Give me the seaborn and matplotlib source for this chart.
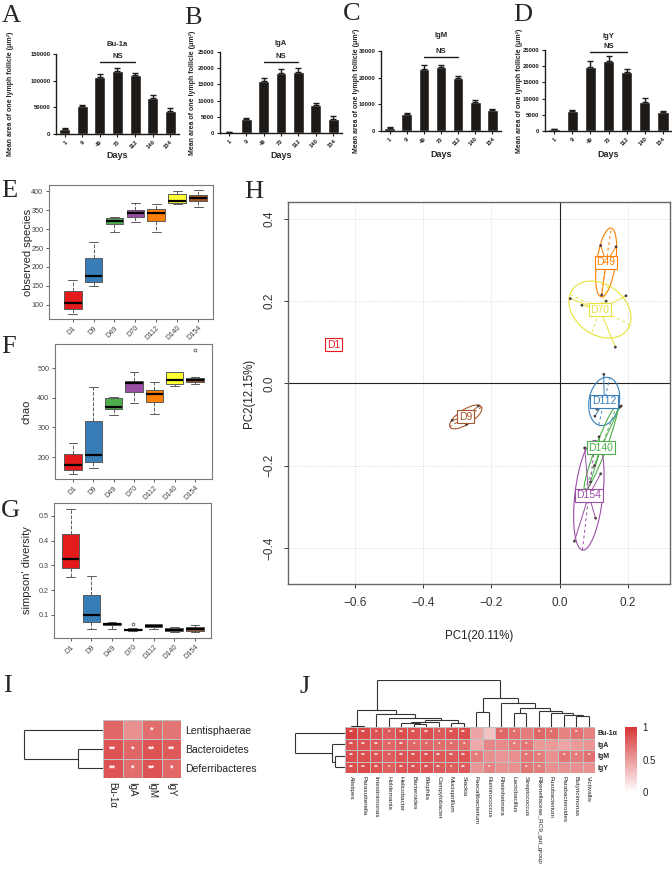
import numpy as np
import pandas as pd
import seaborn as sns
import matplotlib
matplotlib.use('Agg')
import matplotlib.pyplot as plt
from matplotlib.patches import Ellipse
from matplotlib.colors import LinearSegmentedColormap

W, H = 672, 875
sns.set_theme(style='white')
plt.rcParams['font.family'] = ['Liberation Sans', 'DejaVu Sans']

# ---------------- data ----------------
days = ['1', '9', '49', '70', '112', '140', '154']
bu1a_mean = [9000, 52000, 106000, 118000, 111000, 67000, 44000]
bu1a_err = [1500, 3000, 7000, 6000, 4000, 6000, 4000]
iga_mean = [300, 4200, 16200, 18500, 18900, 8600, 4200]
iga_err = [100, 400, 900, 1100, 1200, 700, 1100]
igm_mean = [1200, 6500, 23300, 23900, 19800, 10800, 7800]
igm_err = [150, 300, 1400, 1000, 800, 900, 600]
igy_mean = [500, 6100, 19700, 21600, 18300, 9100, 5900]
igy_err = [100, 400, 1800, 1600, 700, 1100, 400]
ns_levels = [135000, 21900, 27750, 24400]

groups = ['D1', 'D9', 'D49', 'D70', 'D112', 'D140', 'D154']
observed = [[75, 90, 106, 137, 167], [150, 160, 176, 225, 267], [292, 313, 322, 329, 333],
            [318, 333, 342, 350, 368], [291, 320, 343, 352, 365], [365, 368, 374, 392, 400],
            [357, 373, 383, 390, 402]]
chao = [[143, 158, 173, 210, 248], [162, 183, 208, 322, 437], [343, 363, 369, 398, 401],
        [383, 418, 448, 456, 486], [344, 385, 414, 425, 452], [440, 445, 460, 486, 486],
        [445, 451, 455, 465, 469, 562]]
simpson = [[0.253, 0.29, 0.328, 0.428, 0.53], [0.045, 0.072, 0.10, 0.18, 0.257],
           [0.045, 0.058, 0.062, 0.068, 0.07], [0.036, 0.0368, 0.039, 0.041, 0.0455, 0.065],
           [0.045, 0.05, 0.055, 0.063, 0.065], [0.03, 0.037, 0.04, 0.047, 0.05],
           [0.033, 0.036, 0.043, 0.05, 0.058]]
box_colors = ['#E41A1C', '#377EB8', '#4DAF4A', '#984EA3', '#FF7F00', '#FFFF33', '#A65628']

pc1 = {'D1': [-0.663, -0.663, -0.663], 'D9': [-0.315, -0.273, -0.238],
       'D49': [0.120, 0.165, 0.123], 'D70': [0.031, 0.065, 0.194, 0.163, 0.136],
       'D112': [0.129, 0.109, 0.103, 0.180], 'D140': [0.176, 0.115, 0.102, 0.090],
       'D154': [0.073, 0.043, 0.105, 0.120]}
pc2 = {'D1': [0.094, 0.094, 0.094], 'D9': [-0.090, -0.100, -0.055],
       'D49': [0.335, 0.332, 0.215], 'D70': [0.206, 0.190, 0.213, 0.088, 0.200],
       'D112': [0.022, -0.063, -0.080, -0.055], 'D140': [-0.058, -0.130, -0.200, -0.240],
       'D154': [-0.157, -0.384, -0.328, -0.220]}
pcoa_colors = {'D1': '#E41A1C', 'D9': '#A65628', 'D49': '#FF7F00', 'D70': '#E6E23A',
               'D112': '#377EB8', 'D140': '#4DAF4A', 'D154': '#984EA3'}

i_rows = ['Lentisphaerae', 'Bacteroidetes', 'Deferribacteres']
i_cols = ['Bu-1α', 'IgA', 'IgM', 'IgY']
i_vals = [[0.75, 0.55, 0.72, 0.68], [0.85, 0.75, 0.85, 0.82], [0.85, 0.72, 0.85, 0.75]]
i_stars = [['', '', '*', ''], ['**', '*', '**', '**'], ['**', '*', '**', '*']]
i_tree = [('bd', 1, 2, 25), ('root', 0, 'bd', 79)]

j_rows = ['Bu-1α', 'IgA', 'IgM', 'IgY']
j_cols = ['Alistipes', 'Parasutterella', 'Intestinimonas', 'Holdemania', 'Helicobacter',
          'Bacteroides', 'Bilophila', 'Campylobacter', 'Mucispirillum', 'Slackia',
          'Faecalibacterium', 'Ruminococcus', 'Rheinheimera', 'Lactobacillus', 'Streptococcus',
          'Rikenellaceae_RC9_gut_group', 'Fusobacterium', 'Parabacteroides', 'Butyricimonas',
          'Victivallis']
j_vals = [[0.95, 0.9, 0.85, 0.82, 0.88, 0.85, 0.87, 0.82, 0.86, 0.88, 0.45, 0.3, 0.75, 0.72, 0.65, 0.75, 0.72, 0.62, 0.7, 0.62],
          [0.85, 0.85, 0.82, 0.75, 0.8, 0.75, 0.75, 0.72, 0.72, 0.72, 0.42, 0.6, 0.58, 0.65, 0.68, 0.5, 0.5, 0.45, 0.5, 0.52],
          [0.88, 0.88, 0.85, 0.8, 0.85, 0.85, 0.85, 0.82, 0.82, 0.85, 0.65, 0.55, 0.52, 0.55, 0.68, 0.65, 0.55, 0.68, 0.65, 0.7],
          [0.88, 0.9, 0.85, 0.8, 0.85, 0.85, 0.85, 0.82, 0.8, 0.82, 0.52, 0.62, 0.55, 0.55, 0.68, 0.65, 0.55, 0.55, 0.55, 0.55]]
j_stars = [['**', '**', '*', '*', '**', '**', '**', '*', '**', '**', '', '', '*', '*', '', '*', '*', '', '*', ''],
           ['**', '**', '**', '*', '**', '*', '*', '*', '*', '*', '', '', '', '*', '*', '', '', '', '', ''],
           ['**', '**', '**', '*', '**', '**', '**', '**', '**', '**', '*', '', '', '', '*', '*', '', '*', '*', '*'],
           ['**', '**', '**', '*', '**', '**', '**', '**', '*', '**', '', '*', '', '', '*', '*', '', '', '', '']]
j_row_tree = [('my', 2, 3, 10), ('amy', 1, 'my', 13.3), ('root', 0, 'amy', 50)]
j_col_tree = [('A', 0, 1, 1), ('c', 5, 6, 3), ('d', 4, 'c', 4.5), ('d2', 'd', 7, 5.5),
              ('a', 8, 9, 4), ('e', 'd2', 'a', 7), ('f', 3, 'e', 9), ('g', 2, 'f', 13),
              ('L', 'A', 'g', 17), ('p', 10, 11, 15), ('q', 13, 14, 14), ('r', 18, 19, 11),
              ('s', 17, 'r', 12.5), ('t', 16, 's', 14), ('u', 15, 't', 16), ('v', 'q', 'u', 18.7),
              ('w', 12, 'v', 23.7), ('R', 'p', 'w', 29), ('root', 'L', 'R', 47)]

# ---------------- helpers ----------------
fig = plt.figure(figsize=(W / 100, H / 100), dpi=100)


def rect(x0, y0, x1, y1):
    return [x0 / W, 1 - y1 / H, (x1 - x0) / W, (y1 - y0) / H]


def letter(s, x, y):
    fig.text(x / W, 1 - y / H, s, fontsize=19, family='Liberation Serif', va='baseline', ha='left')


def draw_tree(ax, merges, n, orient, color='#333333'):
    pos = {i: i + 0.5 for i in range(n)}
    hgt = {i: 0.0 for i in range(n)}
    for name, a, b, h in merges:
        segs = [([pos[a], pos[a]], [hgt[a], h]), ([pos[b], pos[b]], [hgt[b], h]),
                ([pos[a], pos[b]], [h, h])]
        for p, q in segs:
            if orient == 'top':
                ax.plot(p, q, color=color, lw=0.8, solid_capstyle='butt')
            else:
                ax.plot(q, p, color=color, lw=0.8, solid_capstyle='butt')
        pos[name] = (pos[a] + pos[b]) / 2
        hgt[name] = h
    ax.axis('off')


# ---------------- A-D bar charts ----------------
bar_specs = [
    ('Bu-1a', bu1a_mean, bu1a_err, 150000, 50000, (56, 54, 179, 134), 6, 14, 151),
    ('IgA', iga_mean, iga_err, 25000, 5000, (220, 52, 342, 133), 5, 196, 151),
    ('IgM', igm_mean, igm_err, 30000, 10000, (381, 51, 501, 131), 10, 360, 150),
    ('IgY', igy_mean, igy_err, 25000, 5000, (545, 50, 672, 131), 8.5, 523, 150),
]
for k, (title, mean, err, ymax, step, r, tpad, ylx, xly) in enumerate(bar_specs):
    ax = fig.add_axes(rect(*r))
    sns.barplot(x=days, y=mean, color='#1e1a18', saturation=1, width=0.62, ax=ax)
    ax.errorbar(np.arange(7), mean, yerr=[np.zeros(7), err], fmt='none', ecolor='#1e1a18',
                elinewidth=1, capsize=2.2, capthick=1)
    ax.set_xlim(-0.5, 6.5)
    ax.set_ylim(0, ymax)
    ax.set_yticks(np.arange(0, ymax + 1, step))
    for s in ['top', 'right']:
        ax.spines[s].set_visible(False)
    for s in ['left', 'bottom']:
        ax.spines[s].set_color('#1e1a18')
        ax.spines[s].set_linewidth(1)
    ax.tick_params(axis='both', labelsize=4.2, length=2.5, width=0.8, pad=1.5, direction='out',
                   bottom=True, left=True, colors='#1e1a18')
    plt.setp(ax.get_xticklabels(), rotation=45, ha='right', rotation_mode='anchor', fontweight='bold')
    plt.setp(ax.get_yticklabels(), fontweight='bold')
    ax.set_title(title, fontsize=5.5, fontweight='bold', pad=tpad)
    ax.set_xlabel('Days', fontsize=6.5, fontweight='bold', va='top')
    ax.xaxis.set_label_coords(0.5, -(xly - r[3]) / (r[3] - r[1]))
    ax.set_ylabel('Mean area of one lymph follicle (μm²)', fontsize=5, fontweight='bold')
    ax.yaxis.set_label_coords((ylx - r[0]) / (r[2] - r[0]), 0.5)
    ns = ns_levels[k]
    ax.plot([2, 4], [ns, ns], color='#1e1a18', lw=1)
    ax.annotate('NS', xy=(3, ns), xytext=(0, 1.5), textcoords='offset points',
                ha='center', va='bottom', fontsize=5.5, fontweight='bold')

letter('A', 2, 22)
letter('B', 184, 24)
letter('C', 343, 20)
letter('D', 513, 21)

# ---------------- E-G boxplots ----------------
box_specs = [
    (observed, 'observed species', (49, 185, 213, 319), (63, 416), [100, 150, 200, 250, 300, 350, 400], (-1.13, 6.71), 33),
    (chao, 'chao', (55, 344, 212, 479), (126, 581), [200, 300, 400, 500], (-0.89, 6.84), 32),
    (simpson, "simpson' diversity", (54, 503, 211, 638), (0.007, 0.5525), [0.1, 0.2, 0.3, 0.4, 0.5], (-0.8, 6.77), 32),
]
for vals, ylab, r, ylim, yt, xlim, ylx in box_specs:
    ax = fig.add_axes(rect(*r))
    df = pd.DataFrame([(g, v) for g, vs in zip(groups, vals) for v in vs], columns=['group', 'value'])
    sns.boxplot(data=df, x='group', y='value', hue='group', palette=box_colors, legend=False,
                width=0.85, linecolor='#5a5a5a', linewidth=0.7, saturation=1,
                whiskerprops=dict(linestyle='--'), medianprops=dict(color='black', linewidth=1.6),
                flierprops=dict(marker='o', markersize=2, markerfacecolor='none',
                                markeredgecolor='#555555', markeredgewidth=0.6), ax=ax)
    ax.set_xlim(*xlim)
    ax.set_ylim(*ylim)
    ax.set_yticks(yt)
    ax.set_yticklabels([f'{v:g}' for v in yt])
    for s in ax.spines.values():
        s.set_color('#777777')
        s.set_linewidth(0.8)
    ax.tick_params(axis='both', labelsize=5.2, length=2.5, width=0.6, pad=1.5, direction='out',
                   bottom=True, left=True, colors='#444444')
    plt.setp(ax.get_xticklabels(), rotation=45, ha='right', rotation_mode='anchor')
    ax.set_xlabel('')
    ax.set_ylabel(ylab, fontsize=8)
    ax.yaxis.set_label_coords((ylx - r[0]) / (r[2] - r[0]), 0.5)

letter('E', 1, 197)
letter('F', 1, 353)
letter('G', 1, 517)

# ---------------- H PCoA ----------------
r = (288, 202, 670, 584)
ax = fig.add_axes(rect(*r))
pdf = pd.DataFrame([(g, x, y) for g in groups for x, y in zip(pc1[g], pc2[g])],
                   columns=['group', 'PC1', 'PC2'])
ax.set_xlim(-0.796, 0.323)
ax.set_ylim(-0.488, 0.441)
xt = [-0.6, -0.4, -0.2, 0.0, 0.2]
ytk = [-0.4, -0.2, 0.0, 0.2, 0.4]
for v in xt:
    ax.axvline(v, color='#d0d0d0', lw=0.6, ls=':', zorder=0)
for v in ytk:
    ax.axhline(v, color='#d0d0d0', lw=0.6, ls=':', zorder=0)
ax.axvline(0, color='#222222', lw=0.8, zorder=1)
ax.axhline(0, color='#222222', lw=0.8, zorder=1)
for g in groups:
    x = np.array(pc1[g]); y = np.array(pc2[g])
    col = pcoa_colors[g]
    cx, cy = x.mean(), y.mean()
    for xi, yi in zip(x, y):
        ax.plot([xi, cx], [yi, cy], color=col, lw=0.7, zorder=2)
    cov = np.cov(x, y, bias=True)
    ev, evec = np.linalg.eigh(cov)
    ev = np.clip(ev, 0, None)
    if ev.max() > 1e-9:
        semi = 1.5 * np.sqrt(ev)
        ang = np.degrees(np.arctan2(evec[1, 1], evec[0, 1]))
        ax.add_patch(Ellipse((cx, cy), 2 * semi[1], 2 * semi[0], angle=ang, fill=False,
                             edgecolor=col, lw=0.8, zorder=2))
        for j in range(2):
            dx, dy = evec[0, j] * semi[j], evec[1, j] * semi[j]
            ax.plot([cx - dx, cx + dx], [cy - dy, cy + dy], color=col, lw=0.7, ls=(0, (3, 3)), zorder=2)
    ax.text(cx, cy, g, ha='center', va='center', color=col, fontsize=7.5, zorder=4,
            bbox=dict(boxstyle='square,pad=0.15', fc='white', ec=col, lw=0.8))
sns.scatterplot(data=pdf, x='PC1', y='PC2', color='#4a3a3a', s=4, edgecolor='none',
                legend=False, ax=ax, zorder=3)
ax.set_xticks(xt)
ax.set_xticklabels(['−0.6', '−0.4', '−0.2', '0.0', '0.2'])
ax.set_yticks(ytk)
ax.set_yticklabels(['−0.4', '−0.2', '0.0', '0.2', '0.4'], rotation=90, va='center')
for s in ax.spines.values():
    s.set_color('#666666')
    s.set_linewidth(1)
ax.tick_params(axis='both', labelsize=8.5, length=3, width=0.7, pad=6, direction='out',
               bottom=True, left=True, colors='#333333')
ax.set_xlabel('PC1(20.11%)', fontsize=8.3, va='top', color='#222222')
ax.xaxis.set_label_coords(0.5, -(630 - r[3]) / (r[3] - r[1]))
ax.set_ylabel('PC2(12.15%)', fontsize=8.3, color='#222222')
ax.yaxis.set_label_coords((255 - r[0]) / (r[2] - r[0]), 0.5)
letter('H', 244, 198)

# ---------------- I heatmap ----------------
cmap = LinearSegmentedColormap.from_list('wr', ['#FFFFFF', '#D73535'])
ax = fig.add_axes(rect(103, 720, 181, 778))
sns.heatmap(np.array(i_vals), ax=ax, cmap=cmap, vmin=0, vmax=1, cbar=False,
            linewidths=0.6, linecolor='#C0C0C0', annot=np.array(i_stars), fmt='',
            annot_kws=dict(color='white', fontsize=6.5, fontweight='bold'),
            xticklabels=i_cols, yticklabels=i_rows)
ax.yaxis.tick_right()
ax.tick_params(length=0, pad=3)
plt.setp(ax.get_yticklabels(), rotation=0, fontsize=7.5, color='#222222')
plt.setp(ax.get_xticklabels(), rotation=270, fontsize=7, color='#222222', va='top', ha='center')
axd = fig.add_axes(rect(22, 720, 103, 778))
axd.set_xlim(81, 0)
axd.set_ylim(3, 0)
draw_tree(axd, i_tree, 3, 'left')
letter('I', 3, 692)

# ---------------- J heatmap ----------------
ax = fig.add_axes(rect(345, 727, 595, 773))
cax = fig.add_axes(rect(625, 727, 637, 792))
sns.heatmap(np.array(j_vals), ax=ax, cmap=cmap, vmin=0, vmax=1, cbar_ax=cax,
            linewidths=0.5, linecolor='#C0C0C0', annot=np.array(j_stars), fmt='',
            annot_kws=dict(color='white', fontsize=4.5, fontweight='bold'),
            xticklabels=j_cols, yticklabels=j_rows)
ax.yaxis.tick_right()
ax.tick_params(length=0, pad=2)
plt.setp(ax.get_yticklabels(), rotation=0, fontsize=5, fontweight='bold', color='#222222')
plt.setp(ax.get_xticklabels(), rotation=270, fontsize=4.6, color='#222222', va='top', ha='center')
cax.set_yticks([0, 0.5, 1])
cax.set_yticklabels(['0', '0.5', '1'])
cax.tick_params(length=0, labelsize=7, pad=4, colors='#222222')
for s in cax.spines.values():
    s.set_visible(False)
axd = fig.add_axes(rect(345, 680, 595, 727))
axd.set_xlim(0, 20)
axd.set_ylim(0, 47)
draw_tree(axd, j_col_tree, 20, 'top')
axd = fig.add_axes(rect(293, 727, 345, 773))
axd.set_xlim(52, 0)
axd.set_ylim(4, 0)
draw_tree(axd, j_row_tree, 4, 'left')
letter('J', 300, 693)

fig.savefig('out.png', dpi=100)
